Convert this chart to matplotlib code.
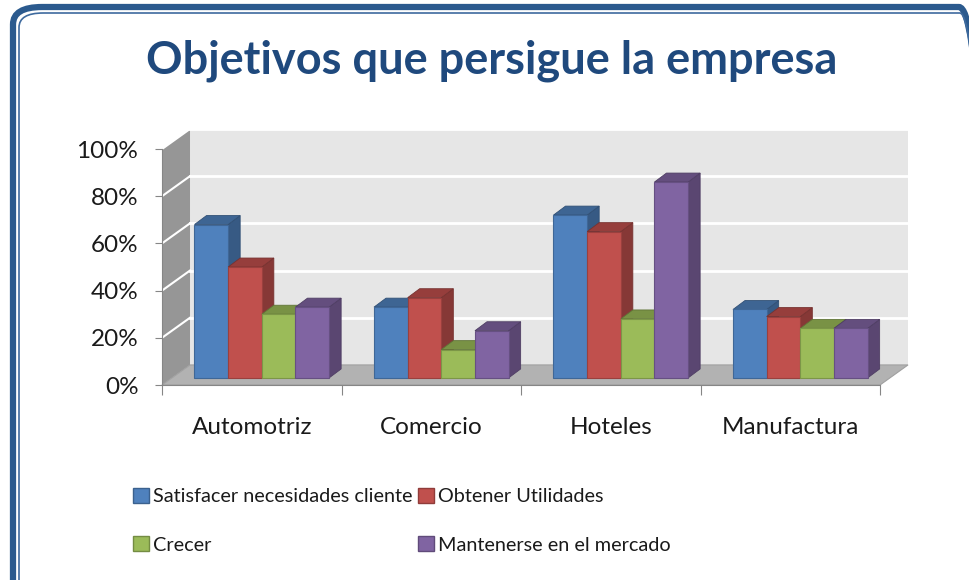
import numpy as np
import matplotlib
matplotlib.use('Agg')
import matplotlib.pyplot as plt
from matplotlib.patches import Polygon, Rectangle, FancyBboxPatch

plt.rcParams['font.family'] = ['Lato', 'DejaVu Sans']

categories = ['Automotriz', 'Comercio', 'Hoteles', 'Manufactura']
series = ['Satisfacer necesidades cliente', 'Obtener Utilidades',
          'Crecer', 'Mantenerse en el mercado']
satisfacer = [65, 30, 69, 29]
utilidades = [47, 34, 62, 26]
crecer = [27, 12, 25, 21]
mantenerse = [30, 20, 83, 21]
yticks = [0, 20, 40, 60, 80, 100]
ytick_labels = ['0%', '20%', '40%', '60%', '80%', '100%']

front_colors = ['#4F81BD', '#C0504D', '#9BBB59', '#8064A2']
values = [satisfacer, utilidades, crecer, mantenerse]


def shade(c, f):
    r, g, b = matplotlib.colors.to_rgb(c)
    return (r * f, g * f, b * f)


W, H = 969, 580
fig = plt.figure(figsize=(W / 100, H / 100), dpi=100)

# frame round the whole chart
fig.patches.append(FancyBboxPatch((13 / W, -30 / H), 975 / W, 603 / H,
                                  boxstyle='round,pad=0,rounding_size=0.03',
                                  transform=fig.transFigure, fill=False,
                                  ec='#2B5A8E', lw=4.5))
fig.patches.append(FancyBboxPatch((19 / W, -30 / H), 965 / W, 597 / H,
                                  boxstyle='round,pad=0,rounding_size=0.025',
                                  transform=fig.transFigure, fill=False,
                                  ec='#3E6A9E', lw=1.2))

fig.text(492 / W, 1 - 61 / H, 'Objetivos que persigue la empresa',
         ha='center', va='center', fontsize=32.5, fontweight='bold',
         color='#1F497D')

# front plane of the plot: x 0..4 -> px 162..880, y 0..100 -> px 385..149
ax = fig.add_axes([162 / W, 1 - 385 / H, 718 / W, 236 / H])
ax.set_xlim(0, 4)
ax.set_ylim(0, 100)
ax.patch.set_visible(False)

# depth of the walls and of the bars, in data units
dx, dy = 0.156, 8.5
bdx0, bdy0 = 0.056, 3.0
bdx, bdy = 0.067, 3.8

ax.add_patch(Polygon([(dx, dy), (4 + dx, dy), (4 + dx, 100 + dy), (dx, 100 + dy)],
                     closed=True, fc='#E6E6E6', ec='none', clip_on=False, zorder=0))
ax.add_patch(Polygon([(0, 0), (dx, dy), (dx, 100 + dy), (0, 100)],
                     closed=True, fc='#969696', ec='none', clip_on=False, zorder=0))
ax.add_patch(Polygon([(0, 0), (4, 0), (4 + dx, dy), (dx, dy)],
                     closed=True, fc='#B2B2B2', ec='#A0A0A0', lw=0.8,
                     clip_on=False, zorder=0))
for v in yticks[1:]:
    ax.plot([dx, 4 + dx], [v + dy, v + dy], color='white', lw=2, clip_on=False, zorder=1)
    ax.plot([0, dx], [v, v + dy], color='white', lw=1.5, clip_on=False, zorder=1)

gap = 0.125
bw = (1 - 2 * gap) / 4
z = 2
for i in range(len(categories)):
    for j, vals in enumerate(values):
        x0 = i + gap + j * bw + bdx0
        y0 = bdy0
        h = vals[i]
        c = front_colors[j]
        side = [(x0 + bw, y0), (x0 + bw + bdx, y0 + bdy),
                (x0 + bw + bdx, y0 + h + bdy), (x0 + bw, y0 + h)]
        top = [(x0, y0 + h), (x0 + bw, y0 + h),
               (x0 + bw + bdx, y0 + h + bdy), (x0 + bdx, y0 + h + bdy)]
        ax.add_patch(Polygon(side, closed=True, fc=shade(c, 0.7), ec=shade(c, 0.62),
                             lw=0.6, clip_on=False, zorder=z))
        ax.add_patch(Polygon(top, closed=True, fc=shade(c, 0.78), ec=shade(c, 0.62),
                             lw=0.6, clip_on=False, zorder=z))
        ax.add_patch(Rectangle((x0, y0), bw, h, fc=c, ec=shade(c, 0.8),
                               lw=0.8, clip_on=False, zorder=z + 1))
        z += 2

for s in ['top', 'right']:
    ax.spines[s].set_visible(False)
for s in ['left', 'bottom']:
    ax.spines[s].set_color('#868686')
    ax.spines[s].set_zorder(1)

ax.set_yticks(yticks)
ax.set_yticklabels(ytick_labels)
ax.tick_params(axis='y', length=5, color='#868686', pad=12, labelsize=17.5,
               labelcolor='#1A1A1A')
ax.set_xticks([0, 1, 2, 3, 4])
ax.set_xticklabels([])
ax.set_xticks([0.5, 1.5, 2.5, 3.5], minor=True)
ax.set_xticklabels(categories, minor=True)
ax.tick_params(axis='x', which='major', length=7, color='#868686')
ax.tick_params(axis='x', which='minor', length=0, pad=23, labelsize=17.5,
               labelcolor='#1A1A1A')

handles = [Rectangle((0, 0), 1, 1, fc=front_colors[k], ec=shade(front_colors[k], 0.75))
           for k in [0, 2, 1, 3]]
labels = [series[k] for k in [0, 2, 1, 3]]
fig.legend(handles, labels, ncol=2, loc='upper left',
           bbox_to_anchor=(133 / W, 1 - 488 / H), frameon=False, fontsize=14.3,
           handlelength=0.8, handleheight=0.8, handletextpad=0.2,
           columnspacing=0.3, labelspacing=1.55, borderpad=0, borderaxespad=0,
           labelcolor='#1A1A1A')

fig.savefig('out.png', dpi=100)
